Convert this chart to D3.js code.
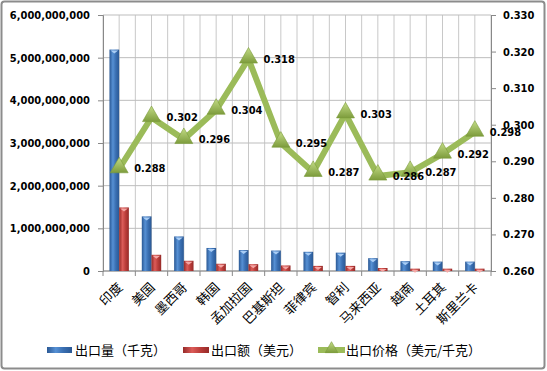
<!DOCTYPE html>
<html>
<head>
<meta charset="utf-8">
<script src="https://cdn.jsdelivr.net/npm/d3@7"></script>
<style>
  body { margin: 0; background: #fff; }
  svg { display: block; }
</style>
</head>
<body>
<div id="chart"></div>
<script>
// countries on the category axis
var categories = ["印度", "美国", "墨西哥", "韩国", "孟加拉国", "巴基斯坦", "菲律宾", "智利", "马来西亚", "越南", "土耳其", "斯里兰卡"];
// 出口量（千克）
var volume = [5.19e9, 1.28e9, 0.81e9, 0.54e9, 0.49e9, 0.48e9, 0.45e9, 0.43e9, 0.30e9, 0.23e9, 0.22e9, 0.22e9];
// 出口额（美元）
var amount = [1.49e9, 0.38e9, 0.24e9, 0.17e9, 0.16e9, 0.13e9, 0.12e9, 0.12e9, 0.07e9, 0.055e9, 0.055e9, 0.055e9];
// 出口价格（美元/千克）
var price = [0.288, 0.302, 0.296, 0.304, 0.318, 0.295, 0.287, 0.303, 0.286, 0.287, 0.292, 0.298];

var leftTicks = [0, 1e9, 2e9, 3e9, 4e9, 5e9, 6e9];
var rightTicks = [0.26, 0.27, 0.28, 0.29, 0.30, 0.31, 0.32, 0.33];
var seriesNames = ["出口量（千克）", "出口额（美元）", "出口价格（美元/千克）"];

var width = 547, height = 371;
var plotLeft = 103, plotRight = 491, plotTop = 15, plotBottom = 271;

var svg = d3.select("#chart").append("svg")
    .attr("width", width)
    .attr("height", height);

var defs = svg.append("defs");

//Gradients for the bevelled Excel-look bars.
function barGradient(id, dark, mid, light) {
    var g = defs.append("linearGradient").attr("id", id)
        .attr("x1", "0%").attr("x2", "100%").attr("y1", "0%").attr("y2", "0%");
    g.append("stop").attr("offset", "0%").attr("stop-color", dark);
    g.append("stop").attr("offset", "35%").attr("stop-color", light);
    g.append("stop").attr("offset", "65%").attr("stop-color", mid);
    g.append("stop").attr("offset", "100%").attr("stop-color", dark);
}
barGradient("gBlue", "#2a5894", "#3a6fb2", "#5690d4");
barGradient("gRed", "#962a28", "#bc3e3b", "#dc5c59");

var tri = defs.append("linearGradient").attr("id", "gTri")
    .attr("x1", "0%").attr("x2", "0%").attr("y1", "0%").attr("y2", "100%");
tri.append("stop").attr("offset", "0%").attr("stop-color", "#c3dc86");
tri.append("stop").attr("offset", "100%").attr("stop-color", "#7d9c3c");

// outer frame
svg.append("rect")
    .attr("x", 1.5).attr("y", 1.5)
    .attr("width", width - 4).attr("height", height - 4)
    .attr("rx", 3)
    .attr("fill", "#fff")
    .attr("stroke", "#8c8c8c")
    .attr("stroke-width", 2);

//Scales.
var x = d3.scaleBand().domain(categories).range([plotLeft, plotRight])
    .paddingInner(0.4).paddingOuter(0.2);
var xs = d3.scaleBand().domain([0, 1]).range([0, x.bandwidth()]);
var y = d3.scaleLinear().domain([0, 6e9]).range([plotBottom, plotTop]);
var y2 = d3.scaleLinear().domain([0.26, 0.33]).range([plotBottom, plotTop]);

//Gridlines: vertical at every half category, horizontal at left ticks.
var half = x.step() / 2;
var vx = d3.range(0, categories.length * 2 + 1).map(function(i) { return plotLeft + i * half; });
svg.append("g").selectAll("line").data(vx).enter().append("line")
    .attr("x1", function(d) { return d; }).attr("x2", function(d) { return d; })
    .attr("y1", plotTop).attr("y2", plotBottom)
    .attr("stroke", "#c8c8c8").attr("stroke-width", 1);
svg.append("g").selectAll("line").data(leftTicks).enter().append("line")
    .attr("x1", plotLeft).attr("x2", plotRight)
    .attr("y1", function(d) { return y(d); }).attr("y2", function(d) { return y(d); })
    .attr("stroke", "#bdbdbd").attr("stroke-width", 1);

//Axes.
var numFont = "'DejaVu Sans Condensed', 'DejaVu Sans', sans-serif";

var yAxis = svg.append("g").attr("transform", "translate(" + plotLeft + ",0)")
    .call(d3.axisLeft(y).tickValues(leftTicks).tickFormat(d3.format(",")).tickSize(5).tickPadding(8));
var y2Axis = svg.append("g").attr("transform", "translate(" + plotRight + ",0)")
    .call(d3.axisRight(y2).tickValues(rightTicks).tickFormat(d3.format(".3f")).tickSize(5).tickPadding(7));
[yAxis, y2Axis].forEach(function(a) {
    a.select(".domain").attr("stroke", "#888");
    a.selectAll(".tick line").attr("stroke", "#888");
    a.selectAll("text").attr("font-family", numFont).attr("font-weight", "bold")
        .attr("font-stretch", "condensed")
        .attr("font-size", 11).attr("fill", "#000");
});

// category axis: ticks at the boundaries
var xAxis = svg.append("g");
xAxis.append("line").attr("x1", plotLeft).attr("x2", plotRight).attr("y1", plotBottom).attr("y2", plotBottom)
    .attr("stroke", "#888");
xAxis.selectAll(".tk").data(d3.range(0, categories.length + 1)).enter().append("line")
    .attr("x1", function(i) { return plotLeft + i * x.step(); })
    .attr("x2", function(i) { return plotLeft + i * x.step(); })
    .attr("y1", plotBottom).attr("y2", plotBottom + 5)
    .attr("stroke", "#888");
xAxis.selectAll("text").data(categories).enter().append("text")
    .attr("transform", function(d) {
        return "translate(" + (x(d) + x.bandwidth() / 2 + 1) + "," + (plotBottom + 14) + ") rotate(-45)";
    })
    .attr("text-anchor", "end")
    .attr("dy", "0.35em")
    .attr("font-family", "'Noto Sans CJK SC', sans-serif")
    .attr("font-size", 13)
    .text(function(d) { return d; });

//Bars.
var bars = svg.append("g");
function drawBars(values, idx, fill, capColor) {
    var g = bars.append("g");
    g.selectAll("rect").data(values).enter().append("rect")
        .attr("x", function(d, i) { return x(categories[i]) + xs(idx); })
        .attr("y", function(d) { return y(d); })
        .attr("width", xs.bandwidth())
        .attr("height", function(d) { return plotBottom - y(d); })
        .attr("fill", fill);
    // small highlight notch on the top of each bar
    g.selectAll("path").data(values).enter().append("path")
        .attr("d", function(d, i) {
            var bx = x(categories[i]) + xs(idx), w = xs.bandwidth(), ty = y(d);
            return "M" + (bx + 1) + "," + (ty + 1) + "L" + (bx + w - 1) + "," + (ty + 1) +
                "L" + (bx + w / 2) + "," + (ty + 4) + "Z";
        })
        .attr("fill", capColor);
}
drawBars(volume, 0, "url(#gBlue)", "#a9cdf5");
drawBars(amount, 1, "url(#gRed)", "#f4a6a4");

//Price line on the secondary axis.
function px(d, i) { return x(categories[i]) + x.bandwidth() / 2; }
var line = d3.line().x(px).y(function(d) { return y2(d); });
svg.append("path").datum(price)
    .attr("d", line)
    .attr("fill", "none")
    .attr("stroke", "#9bbb59")
    .attr("stroke-width", 6)
    .attr("stroke-linejoin", "miter");

var triangle = d3.symbol().type(d3.symbolTriangle).size(140);
svg.append("g").selectAll("path").data(price).enter().append("path")
    .attr("transform", function(d, i) { return "translate(" + px(d, i) + "," + (y2(d) - 1) + ")"; })
    .attr("d", triangle)
    .attr("fill", "url(#gTri)")
    .attr("stroke", "#7a9a3a")
    .attr("stroke-width", 0.6);

svg.append("g").selectAll("text").data(price).enter().append("text")
    .attr("x", function(d, i) { return px(d, i) + 15; })
    .attr("y", function(d) { return y2(d); })
    .attr("dy", "0.35em")
    .attr("font-family", numFont)
    .attr("font-stretch", "condensed")
    .attr("font-weight", "bold")
    .attr("font-size", 11)
    .text(function(d) { return d3.format(".3f")(d); });

//Legend.
var legend = svg.append("g").attr("transform", "translate(0,350)");
var legendX = [47, 183, 318];

legend.append("rect").attr("x", legendX[0]).attr("y", -3).attr("width", 25).attr("height", 6)
    .attr("fill", "url(#gBlue)");
legend.append("rect").attr("x", legendX[1]).attr("y", -3).attr("width", 26).attr("height", 6)
    .attr("fill", "url(#gRed)");
legend.append("line").attr("x1", legendX[2]).attr("x2", legendX[2] + 27).attr("y1", 0).attr("y2", 0)
    .attr("stroke", "#9bbb59").attr("stroke-width", 6);
legend.append("path").attr("d", d3.symbol().type(d3.symbolTriangle).size(70))
    .attr("transform", "translate(" + (legendX[2] + 13.5) + ",-1)")
    .attr("fill", "url(#gTri)").attr("stroke", "#7a9a3a").attr("stroke-width", 0.6);

legend.selectAll("text").data(seriesNames).enter().append("text")
    .attr("x", function(d, i) { return legendX[i] + 28; })
    .attr("y", 0)
    .attr("dy", "0.35em")
    .attr("font-family", "'Noto Sans CJK SC', sans-serif")
    .attr("font-size", 13)
    .text(function(d) { return d; });
</script>
</body>
</html>
